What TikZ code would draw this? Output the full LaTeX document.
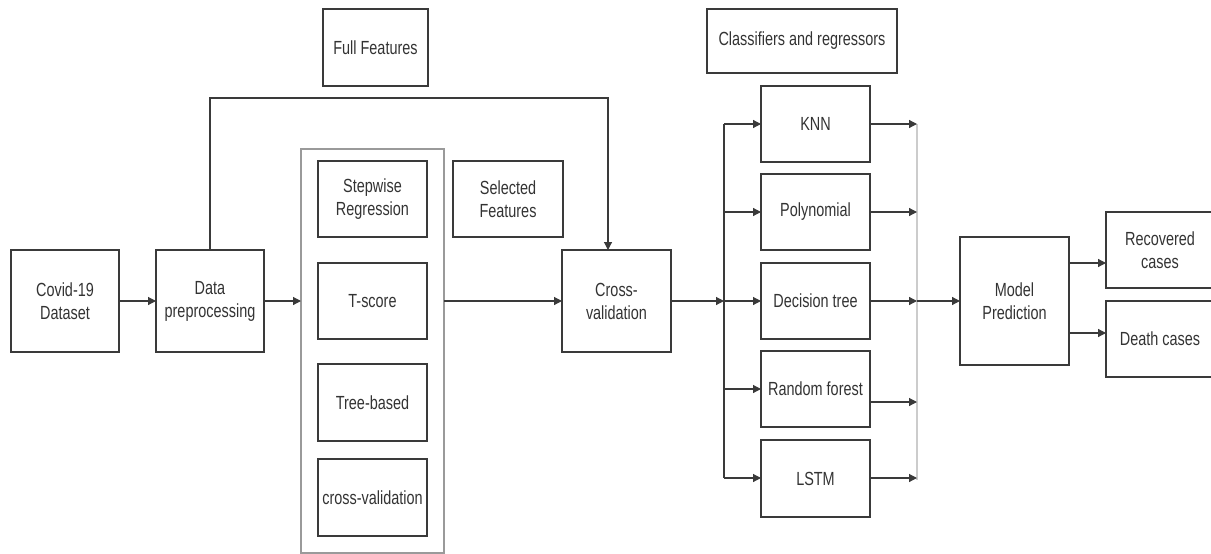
\documentclass[tikz,border=0pt]{standalone}
\usepackage{fontspec}
\setmainfont[FakeStretch=0.76]{Liberation Sans}
\usetikzlibrary{arrows.meta}
\definecolor{boxc}{HTML}{3A3A3A}
\definecolor{txtc}{HTML}{333333}
\definecolor{lightc}{HTML}{9A9A9A}
\definecolor{busc}{HTML}{CCCCCC}
\tikzset{
  box/.style={draw=boxc, line width=1.2pt, align=center, inner sep=0pt, outer sep=0pt,
    text=txtc, font=\fontsize{19}{23}\selectfont, minimum width=109pt, minimum height=76pt},
  arr/.style={draw=boxc, line width=1.2pt, -{Stealth[length=8pt,width=8pt,inset=0pt]}},
  plain/.style={draw=boxc, line width=1.2pt},
}
\begin{document}
\begin{tikzpicture}[x=1pt,y=-1pt]
\useasboundingbox (0,0) rectangle (1211,554);
% container
\node[draw=lightc, line width=1.4pt, minimum width=143pt, minimum height=404pt, inner sep=0pt, outer sep=0pt] (cont) at (372.5,351) {};
% nodes
\node[box, minimum width=108pt, minimum height=102pt] (covid) at (65,301) {Covid-19\\Dataset};
\node[box, minimum width=108pt, minimum height=102pt] (data) at (210,301) {Data\\preprocessing};
\node[box, minimum width=105pt, minimum height=77pt] (full) at (375.5,47.5) {Full Features};
\node[box] (step) at (372.5,199) {Stepwise\\Regression};
\node[box] (tscore) at (372.5,301) {T-score};
\node[box, minimum height=77pt] (tree) at (372.5,402.5) {Tree-based};
\node[box, minimum height=77pt] (cv) at (372.5,497.5) {cross-validation};
\node[box, minimum width=110pt] (sel) at (508,199) {Selected\\Features};
\node[box, minimum height=102pt] (cross) at (616.5,301) {Cross-\\validation};
\node[box, minimum width=190pt, minimum height=64pt] (clf) at (802,41) {Classifiers and regressors};
\node[box] (knn) at (815.5,124) {KNN};
\node[box] (poly) at (815.5,212) {Polynomial};
\node[box] (dt) at (815.5,301) {Decision tree};
\node[box] (rf) at (815.5,389) {Random forest};
\node[box, minimum height=77pt] (lstm) at (815.5,478.5) {LSTM};
\node[box, minimum height=128pt] (model) at (1014.5,301) {Model\\Prediction};
\node[box, minimum width=108pt] (rec) at (1160,250) {Recovered\\cases};
\node[box, minimum width=108pt] (death) at (1160,339) {Death cases};
% coordinates
\coordinate (tr) at (608,98);
\coordinate (busL) at (724,301);
\coordinate (busLt) at (724,124);
\coordinate (busLb) at (724,478);
\coordinate (busR) at (917,301);
\coordinate (busRt) at (917,124);
\coordinate (busRb) at (917,480);
\coordinate (rfo) at ([yshift=-13pt]rf.east);
\coordinate (mo1) at ([yshift=38pt]model.east);
\coordinate (mo2) at ([yshift=-32pt]model.east);
% connectors
\draw[arr] (covid.east) -- (data.west);
\draw[arr] (data.east) -- (data.east -| cont.west);
\draw[arr] (data.north) |- (tr) -- (tr |- cross.north);
\draw[arr] (cross.west -| cont.east) -- (cross.west);
\draw[arr] (cross.east) -- (busL);
\draw[plain] (busLt) -- (busLb);
\draw[arr] (busLt) -- (knn.west);
\draw[arr] (busL |- poly.west) -- (poly.west);
\draw[arr] (busL) -- (dt.west);
\draw[arr] (busL |- rf.west) -- (rf.west);
\draw[arr] (busLb) -- (lstm.west |- busLb);
% right bus
\draw[draw=busc, line width=1.6pt] (busRt) -- (busRb);
\draw[arr] (knn.east) -- (busRt);
\draw[arr] (poly.east) -- (busR |- poly.east);
\draw[arr] (dt.east) -- (busR);
\draw[arr] (rfo) -- (busR |- rfo);
\draw[arr] (lstm.east |- busLb) -- (busR |- busLb);
\draw[arr] (busR) -- (model.west);
\draw[arr] (mo1) -- (rec.west |- mo1);
\draw[arr] (mo2) -- (death.west |- mo2);
\end{tikzpicture}
\end{document}
